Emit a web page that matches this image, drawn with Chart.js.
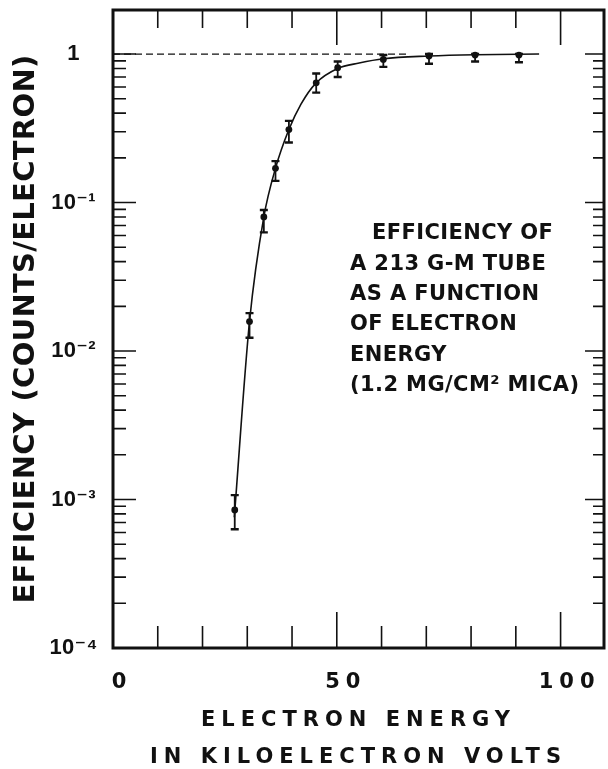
<!DOCTYPE html>
<html>
<head>
<meta charset="utf-8">
<script src="https://cdn.jsdelivr.net/npm/chart.js@4.4.1/dist/chart.umd.min.js"></script>
<style>
    html, body { margin: 0; padding: 0; background: #fff; }
</style>
</head>
<body>
<canvas id="chart" width="608" height="769"></canvas>
<script>
// measured points, energy in keV, efficiency in counts/electron
const energy = [27.2, 30.5, 33.7, 36.3, 39.3, 45.4, 50.2, 60.4, 70.6, 80.9, 90.7];
const efficiency = [8.5e-4, 0.0158, 0.080, 0.17, 0.31, 0.64, 0.81, 0.92, 0.97, 0.985, 0.985];
const errHigh = [1.07e-3, 0.018, 0.089, 0.19, 0.355, 0.74, 0.89, 0.985, 1.0, 1.0, 1.0];
const errLow = [6.3e-4, 0.0123, 0.063, 0.14, 0.254, 0.55, 0.70, 0.82, 0.86, 0.89, 0.88];

// the hand drawn curve through the points
const curveEnergy = [27.1, 30.5, 33.7, 36.3, 39.3, 42.0, 45.4, 50.2, 55.0, 60.4, 70.6, 80.9, 95.2];
const curveEfficiency = [7.6e-4, 0.0158, 0.080, 0.17, 0.31, 0.46, 0.64, 0.80, 0.87, 0.93, 0.97, 0.99, 1.0];

// dashed line at efficiency 1
const guideEnergy = [0, 65.5];
const guideEfficiency = [1, 1];

const xTickValues = [0, 50, 100];
const xTickLabels = ['0', '50', '100'];
const xMinorValues = [10, 20, 30, 40, 60, 70, 80, 90];
const yTickValues = [1e-4, 1e-3, 1e-2, 1e-1, 1];
const yTickLabels = ['10⁻⁴', '10⁻³', '10⁻²', '10⁻¹', '1'];
const yMinorMultiples = [2, 3, 4, 5, 6, 7, 8, 9];

const noteLines = [
    'EFFICIENCY OF',
    'A 213 G-M TUBE',
    'AS A FUNCTION',
    'OF ELECTRON',
    'ENERGY',
    '(1.2 MG/CM² MICA)'
];

const FONT = "'DejaVu Sans', sans-serif";
const INK = '#111';

function pairs(xs, ys) {
    return xs.map((x, i) => ({ x: x, y: ys[i] }));
}

const paperPlugin = {
    id: 'paper',
    beforeDraw(chart) {
        // y labels and title are drawn before the datasets
        chart.ctx.letterSpacing = '0.3px';
    },
    afterDatasetsDraw(chart) {
        const ctx = chart.ctx;
        const x = chart.scales.x;
        const y = chart.scales.y;
        ctx.save();
        ctx.strokeStyle = INK;
        for (let i = 0; i < energy.length; i++) {
            const px = x.getPixelForValue(energy[i]);
            const top = y.getPixelForValue(errHigh[i]);
            const bot = y.getPixelForValue(errLow[i]);
            ctx.lineWidth = 1.8;
            ctx.beginPath();
            ctx.moveTo(px, top);
            ctx.lineTo(px, bot);
            ctx.stroke();
            ctx.lineWidth = 2.4;
            ctx.beginPath();
            ctx.moveTo(px - 4, top);
            ctx.lineTo(px + 4, top);
            ctx.moveTo(px - 4, bot);
            ctx.lineTo(px + 4, bot);
            ctx.stroke();
        }
        ctx.restore();
        // x labels and title come after the datasets, wider spacing
        ctx.letterSpacing = '6px';
    },
    afterDraw(chart) {
        const ctx = chart.ctx;
        const area = chart.chartArea;
        const x = chart.scales.x;
        const y = chart.scales.y;
        ctx.save();
        ctx.strokeStyle = INK;
        ctx.lineWidth = 1.6;
        ctx.beginPath();
        // x ticks, bottom and top, pointing in
        for (const v of xMinorValues.concat([50, 100])) {
            const px = x.getPixelForValue(v);
            const major = v % 50 === 0;
            ctx.moveTo(px, area.bottom);
            ctx.lineTo(px, area.bottom - (major ? 36 : 22));
            ctx.moveTo(px, area.top);
            ctx.lineTo(px, area.top + (major ? 35 : 18));
        }
        // y ticks, left and right
        for (const v of yTickValues) {
            const py = y.getPixelForValue(v);
            ctx.moveTo(area.left, py);
            ctx.lineTo(area.left + 23, py);
            ctx.moveTo(area.right, py);
            ctx.lineTo(area.right - 19, py);
            if (v >= 1) continue;
            for (const m of yMinorMultiples) {
                const pm = y.getPixelForValue(v * m);
                ctx.moveTo(area.left, pm);
                ctx.lineTo(area.left + 13, pm);
                ctx.moveTo(area.right, pm);
                ctx.lineTo(area.right - 11, pm);
            }
        }
        ctx.stroke();

        ctx.lineWidth = 3;
        ctx.strokeRect(area.left, area.top, area.right - area.left, area.bottom - area.top);

        // note inside the plot
        ctx.letterSpacing = '0.4px';
        ctx.fillStyle = INK;
        ctx.font = 'bold 21px ' + FONT;
        ctx.textBaseline = 'middle';
        ctx.textAlign = 'left';
        noteLines.forEach((line, i) => {
            const left = i === 0 ? 372 : 350;
            ctx.fillText(line, left, 234 + i * 30.3);
        });
        ctx.restore();
    }
};

const ctx = document.getElementById('chart').getContext('2d');

new Chart(ctx, {
    type: 'scatter',
    data: {
        datasets: [{
            label: 'Efficiency = 1',
            data: pairs(guideEnergy, guideEfficiency),
            showLine: true,
            borderColor: INK,
            borderWidth: 1.2,
            borderDash: [7, 4],
            pointRadius: 0
        }, {
            label: 'Curve',
            data: pairs(curveEnergy, curveEfficiency),
            showLine: true,
            borderColor: INK,
            borderWidth: 1.6,
            cubicInterpolationMode: 'monotone',
            pointRadius: 0
        }, {
            label: 'Measured',
            data: pairs(energy, efficiency),
            showLine: false,
            pointRadius: 3.4,
            pointBackgroundColor: INK,
            pointBorderWidth: 0
        }]
    },
    options: {
        responsive: false,
        animation: false,
        layout: { padding: { top: 10, right: 3, left: 0, bottom: 0 } },
        plugins: {
            legend: { display: false },
            tooltip: { enabled: false }
        },
        scales: {
            x: {
                type: 'linear',
                min: 0,
                max: 109.7,
                grid: { display: false, z: 1 },
                border: { display: false },
                afterBuildTicks: s => { s.ticks = xTickValues.map(v => ({ value: v })); },
                afterFit: s => { s.height = 121; s.paddingLeft = 0; s.paddingRight = 0; },
                ticks: {
                    z: 1,
                    autoSkip: false,
                    maxRotation: 0,
                    padding: 14,
                    labelOffset: 9,
                    color: INK,
                    font: { family: FONT, size: 21, weight: 'bold' },
                    callback: v => xTickLabels[xTickValues.indexOf(v)]
                },
                title: {
                    display: true,
                    text: ['ELECTRON ENERGY', 'IN KILOELECTRON VOLTS'],
                    color: INK,
                    font: { family: FONT, size: 21, weight: 'bold', lineHeight: 1.75 },
                    padding: { top: 0, bottom: -7 }
                }
            },
            y: {
                type: 'logarithmic',
                min: 1e-4,
                max: 1.98,
                grid: { display: false },
                border: { display: false },
                afterBuildTicks: s => { s.ticks = yTickValues.map(v => ({ value: v })); },
                afterFit: s => { s.width = 113; s.paddingTop = 0; s.paddingBottom = 0; },
                ticks: {
                    crossAlign: 'center',
                    padding: 8,
                    color: INK,
                    font: { family: "'Liberation Sans', 'DejaVu Sans', sans-serif", size: 22, weight: 'bold' },
                    callback: v => yTickLabels[yTickValues.indexOf(v)]
                },
                title: {
                    display: true,
                    text: 'EFFICIENCY (COUNTS/ELECTRON)',
                    color: INK,
                    font: { family: FONT, size: 29, weight: 'bold' },
                    padding: { top: 9, bottom: 0 }
                }
            }
        }
    },
    plugins: [paperPlugin]
});
</script>
</body>
</html>
